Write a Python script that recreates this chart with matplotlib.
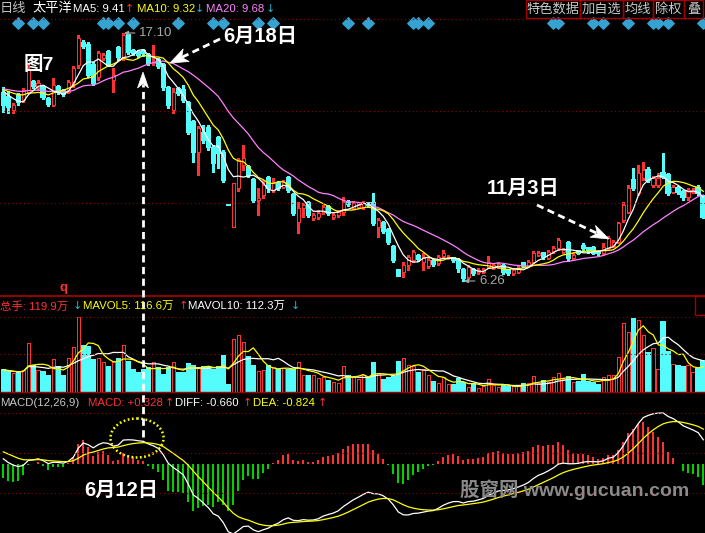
import numpy as np
import matplotlib
matplotlib.use("Agg")
import matplotlib.pyplot as plt
from matplotlib.patches import Rectangle, Ellipse, Polygon

plt.rcParams['font.family'] = ['Liberation Sans', 'Noto Sans CJK SC', 'DejaVu Sans']

# ---------------- data ----------------
opens = [14.48, 14.30, 13.73, 14.39, 14.17, 14.52, 14.96, 14.74, 14.74, 14.22,
         13.95, 14.74, 14.56, 14.52, 14.96, 15.70, 16.66, 16.58, 15.70, 15.18,
         16.01, 16.27, 15.05, 16.44, 16.05, 17.01, 16.31, 16.27, 16.31, 16.14,
         15.79, 15.92, 15.70, 14.70, 13.73, 14.65, 14.61, 14.04, 13.21, 11.90,
         12.73, 12.95, 12.07, 12.51, 11.85, 9.60, 8.64, 10.32, 11.33, 11.24,
         10.67, 9.80, 10.02, 10.76, 10.24, 10.54, 10.37, 10.76, 10.02, 8.84,
         9.45, 9.67, 9.01, 9.06, 9.28, 9.49, 9.06, 9.14, 9.28, 9.71,
         9.45, 9.49, 9.49, 9.67, 9.67, 8.62, 8.80, 8.49, 7.75, 6.74,
         6.65, 6.96, 7.18, 7.35, 7.09, 6.92, 7.13, 7.05, 7.35, 7.27,
         7.27, 7.18, 6.74, 6.43, 6.74, 6.65, 6.65, 6.87, 6.83, 6.87,
         6.92, 6.74, 6.61, 6.65, 7.05, 6.92, 7.09, 7.40, 7.48, 7.27,
         7.57, 7.70, 7.53, 7.92, 7.27, 7.57, 7.79, 7.70, 7.70, 7.53,
         7.48, 7.70, 7.79, 7.96, 8.93, 9.28, 10.67, 10.11, 10.76, 11.11,
         10.46, 10.46, 10.98, 10.89, 10.15, 10.32, 10.15, 9.93, 10.15, 10.32, 9.93]
highs = [14.74, 14.56, 14.04, 14.48, 14.70, 15.79, 15.05, 15.05, 14.83, 14.30,
         15.13, 14.83, 14.65, 15.05, 15.66, 17.01, 16.79, 16.70, 15.83, 16.31,
         16.23, 16.36, 15.57, 16.53, 17.10, 17.05, 16.40, 16.36, 16.40, 16.23,
         16.58, 16.01, 15.79, 14.78, 14.70, 14.74, 14.83, 14.13, 13.30, 13.04,
         13.08, 13.08, 12.20, 12.60, 11.99, 9.60, 10.56, 11.64, 12.20, 11.33,
         10.76, 10.32, 10.67, 10.85, 10.76, 10.63, 10.67, 10.85, 10.11, 9.71,
         9.67, 9.75, 9.23, 9.36, 9.58, 9.58, 9.23, 9.36, 9.93, 9.80,
         9.75, 9.67, 9.75, 9.71, 10.11, 9.01, 8.88, 8.58, 7.83, 6.80,
         7.09, 7.40, 7.61, 7.44, 7.48, 7.27, 7.22, 7.40, 7.61, 7.40,
         7.31, 7.27, 6.83, 6.96, 6.83, 6.83, 6.83, 7.35, 7.05, 7.09,
         7.00, 6.78, 6.83, 6.92, 7.09, 7.18, 7.57, 7.57, 7.53, 7.61,
         7.79, 8.14, 7.70, 8.01, 7.48, 7.61, 7.92, 7.75, 7.79, 7.57,
         7.92, 8.23, 8.05, 8.84, 9.71, 10.46, 11.20, 11.33, 11.46, 11.24,
         10.85, 10.98, 11.85, 10.98, 10.46, 10.41, 10.24, 10.32, 10.32, 10.46, 10.02]
lows = [13.65, 13.60, 13.60, 13.95, 14.08, 14.48, 14.70, 14.61, 14.22, 13.91,
        13.91, 14.43, 14.35, 14.48, 14.74, 15.57, 16.44, 15.18, 14.83, 15.05,
        15.92, 15.66, 14.52, 15.92, 15.92, 16.18, 16.14, 16.05, 16.10, 15.70,
        15.70, 15.57, 14.61, 13.82, 13.60, 14.39, 14.08, 12.68, 11.46, 10.89,
        12.29, 11.99, 11.02, 11.20, 10.59, 9.60, 8.64, 10.19, 11.11, 10.80,
        9.71, 9.14, 9.89, 10.15, 10.15, 10.24, 10.32, 10.15, 9.14, 8.36,
        9.06, 9.06, 8.93, 8.97, 9.19, 9.14, 8.97, 9.06, 9.14, 9.54,
        9.40, 9.45, 9.40, 9.49, 8.71, 8.18, 8.36, 7.88, 7.09, 6.46,
        6.43, 6.74, 7.09, 7.13, 6.74, 6.83, 6.92, 6.96, 7.27, 7.22,
        7.09, 6.65, 6.26, 6.35, 6.52, 6.57, 6.61, 6.83, 6.78, 6.83,
        6.57, 6.52, 6.52, 6.61, 6.87, 6.87, 7.05, 7.35, 7.22, 7.22,
        7.48, 7.61, 7.48, 7.13, 7.22, 7.44, 7.61, 7.48, 7.44, 7.40,
        7.40, 7.66, 7.75, 7.92, 8.84, 9.23, 10.24, 10.02, 10.67, 10.59,
        10.37, 10.37, 10.76, 10.02, 10.11, 10.06, 9.80, 9.80, 10.11, 10.02, 9.01]
closes = [13.95, 13.87, 13.95, 14.08, 14.61, 15.48, 14.78, 14.91, 14.30, 14.00,
          14.83, 14.52, 14.43, 14.96, 15.57, 16.88, 16.53, 15.26, 14.91, 16.23,
          16.14, 15.70, 15.26, 16.05, 17.01, 16.27, 16.23, 16.14, 16.23, 15.79,
          15.88, 15.66, 14.74, 13.95, 14.52, 14.48, 14.17, 12.77, 11.90, 12.95,
          12.42, 12.12, 11.42, 11.85, 10.67, 9.60, 10.56, 11.55, 11.64, 10.89,
          9.80, 9.89, 10.46, 10.32, 10.54, 10.32, 10.59, 10.24, 9.23, 9.45,
          9.58, 9.14, 9.14, 9.23, 9.49, 9.23, 9.14, 9.28, 9.71, 9.62,
          9.67, 9.58, 9.67, 9.58, 8.80, 8.93, 8.45, 7.96, 7.18, 6.46,
          6.96, 7.31, 7.53, 7.22, 7.27, 7.18, 7.00, 7.31, 7.48, 7.31,
          7.18, 6.83, 6.39, 6.87, 6.61, 6.74, 6.74, 7.09, 6.96, 7.00,
          6.65, 6.61, 6.74, 6.83, 6.92, 7.09, 7.48, 7.48, 7.31, 7.53,
          7.70, 8.05, 7.61, 7.27, 7.40, 7.48, 7.70, 7.61, 7.48, 7.48,
          7.75, 8.14, 7.96, 8.80, 9.58, 10.32, 10.32, 10.98, 11.11, 10.67,
          10.76, 10.76, 10.80, 10.11, 10.37, 10.15, 9.93, 10.24, 10.24, 10.11, 9.06]
volumes = [88, 84, 76, 76, 88, 196, 104, 88, 80, 64,
           132, 100, 64, 136, 180, 300, 184, 180, 128, 136,
           120, 100, 120, 132, 188, 120, 88, 76, 88, 96,
           120, 96, 68, 96, 120, 76, 76, 112, 104, 100,
           100, 100, 88, 100, 144, 28, 212, 228, 200, 140,
           104, 84, 88, 104, 100, 88, 96, 88, 88, 120,
           68, 64, 68, 56, 60, 44, 40, 36, 104, 64,
           60, 52, 68, 56, 116, 76, 48, 56, 60, 120,
           136, 108, 104, 76, 92, 68, 40, 36, 60, 32,
           28, 52, 36, 20, 32, 16, 24, 52, 28, 20,
           24, 20, 24, 24, 32, 36, 64, 36, 44, 40,
           60, 76, 52, 60, 40, 40, 68, 40, 36, 28,
           60, 68, 68, 140, 276, 240, 292, 288, 228, 156,
           176, 92, 280, 160, 112, 104, 100, 108, 80, 92, 124]
marker_days = [3, 6, 8, 20, 21, 23, 26, 35, 42, 44, 51, 54, 69, 73, 82, 83,
               85, 110, 111, 118, 120, 125, 130, 131, 133, 140]
PRE_CLOSE = 14.70     # price level of the days before the first candle (MA start)
EMA12_START = 14.75   # indicator state on the first day
EMA26_START = 14.58
DEA_START = 0.25

o = np.array(opens); h = np.array(highs); l = np.array(lows); c = np.array(closes)
v = np.array(volumes, dtype=float)
n = len(c)
idx = np.arange(n)
prev = np.r_[c[0], c[:-1]]
up = (c > o) | ((c == o) & (c >= prev))


def ma(x, k, seed=None):
    out = []
    for i in range(len(x)):
        w = x[max(0, i - k + 1):i + 1]
        if seed is None:
            out.append(w.mean())
        else:
            out.append((w.sum() + (k - len(w)) * seed) / k)
    return np.array(out)


ma5, ma10, ma20 = ma(c, 5, PRE_CLOSE), ma(c, 10, PRE_CLOSE), ma(c, 20, PRE_CLOSE)
mv5, mv10 = ma(v, 5), ma(v, 10)

e12 = np.zeros(n); e26 = np.zeros(n); dea = np.zeros(n)
e12[0] = EMA12_START * 11 / 13 + c[0] * 2 / 13
e26[0] = EMA26_START * 25 / 27 + c[0] * 2 / 27
for i in range(1, n):
    e12[i] = e12[i - 1] * 11 / 13 + c[i] * 2 / 13
    e26[i] = e26[i - 1] * 25 / 27 + c[i] * 2 / 27
diff = e12 - e26
dea[0] = DEA_START * 0.8 + diff[0] * 0.2
for i in range(1, n):
    dea[i] = dea[i - 1] * 0.8 + diff[i] * 0.2
hist = 2 * (diff - dea)

# ---------------- figure ----------------
W, H = 705, 533
RED = '#FF3232'
CYAN = '#54FCFC'
GREEN = '#00D200'
MAG = '#FF80FF'
YEL = '#FFFF00'
GRID = '#8B0000'
TEAL = '#2AB4C8'

fig = plt.figure(figsize=(W / 100, H / 100), dpi=100, facecolor='black')


def fy(y):
    return 1 - y / H


ax_p = fig.add_axes([0, fy(295), 1, (295 - 19) / H])
ax_v = fig.add_axes([0, fy(392), 1, (392 - 296) / H])
ax_m = fig.add_axes([0, 0, 1, (533 - 392) / H])
for a in (ax_p, ax_v, ax_m):
    a.set_facecolor('black')
    a.set_axis_off()
    a.set_xlim(-0.66, n - 0.66)

# price panel
ax_p.set_ylim(5.648, 17.712)
BW = 0.72
for i in range(n):
    top, bot = max(o[i], c[i]), min(o[i], c[i])
    if up[i]:
        col = RED
        if h[i] > top:
            ax_p.vlines(i, top, h[i], color=col, lw=0.8, antialiased=False)
        if l[i] < bot:
            ax_p.vlines(i, l[i], bot, color=col, lw=0.8, antialiased=False)
        if top - bot < 0.02:
            ax_p.hlines(top, i - BW / 2, i + BW / 2, color=col, lw=1, antialiased=False)
        else:
            ax_p.add_patch(Rectangle((i - BW / 2, bot), BW, top - bot, fc='black',
                                     ec=col, lw=0.55, antialiased=False, zorder=2))
    else:
        col = CYAN
        if h[i] > l[i]:
            ax_p.vlines(i, l[i], h[i], color=col, lw=0.8, antialiased=False)
        if top - bot < 0.02:
            ax_p.hlines(top, i - BW / 2 - 0.1, i + BW / 2 + 0.1, color=col, lw=1.2,
                        antialiased=False)
        else:
            ax_p.add_patch(Rectangle((i - BW / 2, bot), BW, top - bot, fc=col,
                                     ec=col, lw=0.3, antialiased=False, zorder=2))
ax_p.plot(idx, ma20, color=MAG, lw=0.9, zorder=3)
ax_p.plot(idx, ma10, color=YEL, lw=0.9, zorder=3)
ax_p.plot(idx, ma5, color='white', lw=0.9, zorder=3)
ax_p.scatter(marker_days, [0.985] * len(marker_days), marker='D', s=34,
             color='#35A2D2', transform=ax_p.get_xaxis_transform(), clip_on=False, zorder=5)

ih = int(np.argmax(h)); il = int(np.argmin(l))
for j, val in ((ih, h[ih]), (il, l[il])):
    ax_p.annotate(f'{val:.2f}', xy=(j + 0.15, val), xytext=(15, 0), textcoords='offset pixels',
                  color='#A8A8A8', fontsize=9.5, va='center', ha='left',
                  arrowprops=dict(arrowstyle='-|>', color='#A8A8A8', lw=0.8, mutation_scale=6,
                                  shrinkA=1, shrinkB=0))

# volume panel
ax_v.set_ylim(0, 384)
for i in range(n):
    if up[i]:
        ax_v.add_patch(Rectangle((i - BW / 2, 0), BW, v[i], fc='black', ec=RED, lw=0.55,
                                 antialiased=False))
    else:
        ax_v.add_patch(Rectangle((i - BW / 2, 0), BW, v[i], fc=CYAN, ec=CYAN, lw=0.3,
                                 antialiased=False))
ax_v.plot(idx, mv10, color='white', lw=0.9)
ax_v.plot(idx, mv5, color=YEL, lw=0.9)

# MACD panel
k = (464 - 413) / diff[115:].max()
ax_m.set_ylim(-(533 - 464) / k, (464 - 392) / k)
ax_m.vlines(idx, 0, hist, colors=[RED if x >= 0 else GREEN for x in hist], lw=1.1,
            antialiased=False)
ax_m.plot(idx, diff, color='white', lw=0.9)
ax_m.plot(idx, dea, color=YEL, lw=0.9)

# ---------------- overlay (text, grid, annotations) ----------------
ov = fig.add_axes([0, 0, 1, 1])
ov.set_xlim(0, W); ov.set_ylim(H, 0)
ov.set_axis_off()
ov.patch.set_alpha(0)
ov.set_zorder(10)

for y in (19, 111, 203, 317, 354, 413, 453, 493):
    ov.hlines(y, 0, W, color=GRID, lw=0.8, ls=(0, (1, 2.5)))
ov.hlines(296, 0, W, color='#A00000', lw=1.3)
ov.hlines(392, 0, W, color='#A00000', lw=1.0)
ov.add_patch(Rectangle((695, 296), 12, 19, fill=False, ec='#A00000', lw=1))


def T(x, y, s, color, size=8.2, **kw):
    ov.text(x, y, s, color=color, fontsize=size, va='center', ha='left', **kw)


def A(x, y, s, color):
    ov.text(x, y, s, color=color, fontsize=8, va='center', ha='left', family='DejaVu Sans')


# header
T(0, 9, '日线', '#C0C0C0', 9.5)
T(32, 9, '太平洋', 'white', 9.5)
T(73, 9, 'MA5: 9.41', 'white')
A(125, 9, '↑', RED)
T(137, 9, 'MA10: 9.32', YEL)
A(195, 9, '↓', TEAL)
T(206, 9, 'MA20: 9.68', MAG)
A(266, 9, '↓', TEAL)

# buttons
for x0, x1, s in ((526, 580, '特色数据'), (580, 623, '加自选'), (623, 653, '均线'),
                  (653, 684, '除权'), (684, 703, '叠')):
    ov.add_patch(Rectangle((x0, 0), x1 - x0, 18, fill=False, ec='#A00000', lw=1))
    ov.text((x0 + x1) / 2, 9.5, s, color='#C8C8C8', fontsize=9.5, ha='center', va='center')

# volume header
T(0, 306, '总手: 119.9万', RED)
A(73, 306, '↓', TEAL)
T(83, 306, 'MAVOL5: 116.6万', YEL)
A(179, 306, '↑', RED)
T(188, 306, 'MAVOL10: 112.3万', 'white')
A(291, 306, '↓', TEAL)
T(59, 288, 'q', RED, 9.5, fontweight='bold')

# MACD header
T(0, 403, 'MACD(12,26,9)', '#C8C8C8')
T(88, 403, 'MACD: +0.328', RED)
A(165, 403, '↑', RED)
T(175, 403, 'DIFF: -0.660', 'white')
A(243, 403, '↑', RED)
T(253, 403, 'DEA: -0.824', YEL)
A(318, 403, '↑', RED)

# annotations
BOLD = ['Liberation Sans', 'Noto Sans CJK SC']
ov.text(24, 65, '图7', color='white', fontsize=14, fontweight='bold', family=BOLD,
        ha='left', va='center')
ov.text(223, 36, '6月18日', color='white', fontsize=14.5, fontweight='bold', family=BOLD,
        ha='left', va='center')
ov.text(487, 188, '11月3日', color='white', fontsize=14.5, fontweight='bold', family=BOLD,
        ha='left', va='center')
ov.text(84, 490, '6月12日', color='white', fontsize=14.5, fontweight='bold', family=BOLD,
        ha='left', va='center')
ov.text(460, 490, '股窗网 www.gucuan.com', color='#8A8A8A', fontsize=14, fontweight='bold',
        family=BOLD, ha='left', va='center')


def dashed_arrow(x0, y0, x1, y1, head_len, head_w, lw=2.0):
    d = np.array([x1 - x0, y1 - y0], dtype=float)
    L = np.hypot(*d)
    u = d / L
    nrm = np.array([-u[1], u[0]])
    tip = np.array([x1, y1], dtype=float)
    base = tip - u * head_len
    notch = tip - u * head_len * 0.72
    ov.plot([x0, notch[0]], [y0, notch[1]], color='white', lw=lw, ls=(0, (2.6, 1.6)),
            dash_capstyle='butt')
    ov.add_patch(Polygon([tip, base + nrm * head_w / 2, notch, base - nrm * head_w / 2],
                         closed=True, fc='white', ec='white', lw=0.5))


dashed_arrow(220, 39, 170, 63, 18, 14)
dashed_arrow(537, 205, 609, 239, 18, 13)
dashed_arrow(143, 437, 143, 72, 16, 11)

ov.add_patch(Ellipse((137, 438), 53, 39, fill=False, ec=YEL, lw=1.8, ls=(0, (0.7, 1.0))))

fig.savefig('out.png', dpi=100, facecolor='black')
